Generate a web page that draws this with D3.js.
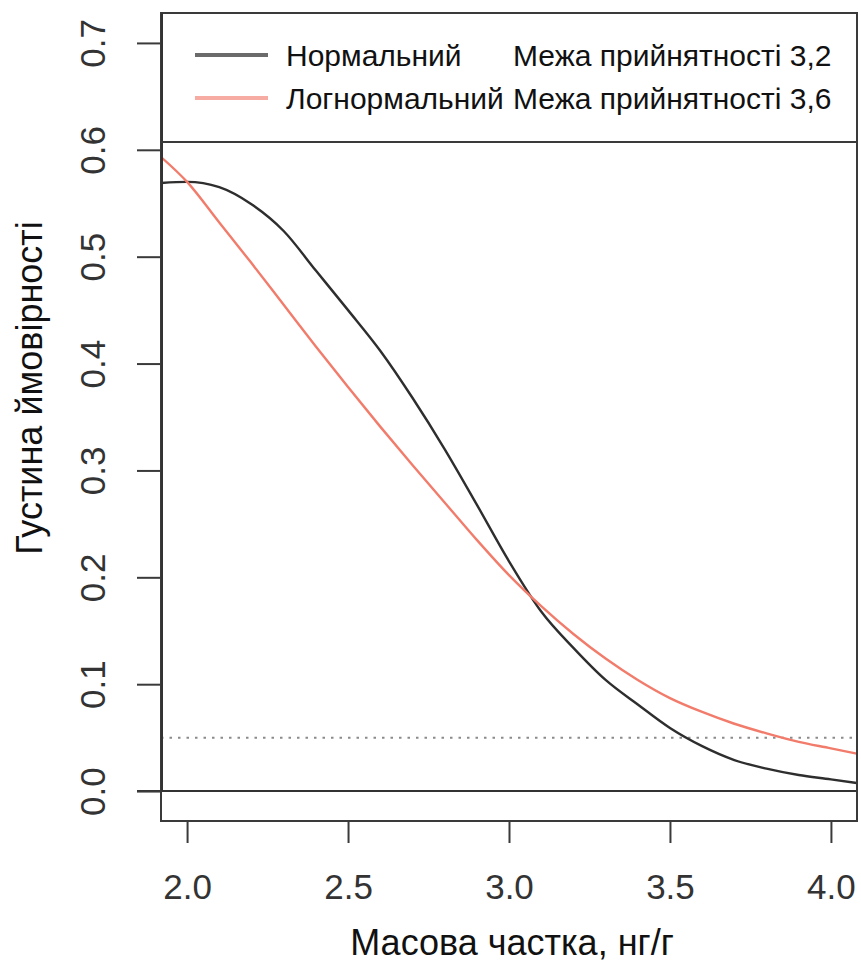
<!DOCTYPE html>
<html>
<head>
<meta charset="utf-8">
<script src="https://cdn.jsdelivr.net/npm/d3@7"></script>
<style>
  body { margin: 0; background: #fff; }
  svg text { font-family: "Liberation Sans", Arial, sans-serif; }
</style>
</head>
<body>
<svg id="chart"></svg>
<script>
// values
var xValues = [1.92, 2.0, 2.1, 2.2, 2.3, 2.4, 2.5, 2.6, 2.7, 2.8, 2.9, 3.0,
               3.1, 3.2, 3.3, 3.4, 3.5, 3.6, 3.7, 3.8, 3.9, 4.0, 4.08];
var normalDensity = [0.569, 0.570, 0.565, 0.549, 0.524, 0.487, 0.450, 0.412, 0.368, 0.320, 0.268, 0.215,
                     0.168, 0.134, 0.104, 0.081, 0.059, 0.042, 0.029, 0.021, 0.015, 0.011, 0.0075];
var lognormalDensity = [0.593, 0.570, 0.532, 0.494, 0.455, 0.416, 0.378, 0.341, 0.305, 0.270, 0.235, 0.202,
                        0.173, 0.147, 0.124, 0.104, 0.087, 0.074, 0.063, 0.054, 0.046, 0.040, 0.035];
var xTicks = [2.0, 2.5, 3.0, 3.5, 4.0];
var yTicks = [0.0, 0.1, 0.2, 0.3, 0.4, 0.5, 0.6, 0.7];
var threshold = 0.05;
var legendNames = ["Нормальний", "Логнормальний"];
var legendLimits = ["Межа прийнятності 3,2", "Межа прийнятності 3,6"];
var xTitle = "Масова частка, нг/г";
var yTitle = "Густина ймовірності";

(function () {
  var width = 861, height = 965;
  var plot = {left: 161, right: 857, top: 13, bottom: 821};
  var lineColor = "#2e2e2e", redColor = "#f27c6b";

  var svg = d3.select("#chart")
      .attr("width", width)
      .attr("height", height);

  var x = d3.scaleLinear().domain([1.919, 4.081]).range([plot.left, plot.right]),
      y = d3.scaleLinear().domain([-0.028, 0.728]).range([plot.bottom, plot.top]);

  svg.append("clipPath").attr("id", "clip")
    .append("rect")
      .attr("x", plot.left).attr("y", plot.top)
      .attr("width", plot.right - plot.left)
      .attr("height", plot.bottom - plot.top);

  // threshold and zero lines
  svg.append("line")
    .attr("x1", plot.left).attr("x2", plot.right)
    .attr("y1", y(threshold)).attr("y2", y(threshold))
    .style("stroke", "#8a8a8a")
    .style("stroke-width", 2)
    .style("stroke-dasharray", "2.5,6");

  svg.append("line")
    .attr("x1", plot.left - 24).attr("x2", plot.right)
    .attr("y1", y(0)).attr("y2", y(0))
    .style("stroke", "#333")
    .style("stroke-width", 2);

  var series = [
    {values: normalDensity, color: lineColor},
    {values: lognormalDensity, color: redColor}
  ];

  var line = d3.line()
      .curve(d3.curveMonotoneX)
      .x(function(d) { return x(d[0]); })
      .y(function(d) { return y(d[1]); });

  svg.append("g").attr("clip-path", "url(#clip)")
    .selectAll("path")
    .data(series)
    .enter().append("path")
      .attr("d", function(s) { return line(xValues.map(function(v, i) { return [v, s.values[i]]; })); })
      .style("fill", "none")
      .style("stroke", function(s) { return s.color; })
      .style("stroke-width", 2.4);

  // axes
  var yAxis = svg.append("g")
      .attr("transform", "translate(" + plot.left + ",0)")
      .call(d3.axisLeft(y).tickValues(yTicks).tickSize(24).tickSizeOuter(0).tickFormat(d3.format(".1f")));
  yAxis.select(".domain").remove();
  yAxis.selectAll(".tick line").style("stroke", "#3a3a3a").style("stroke-width", 2);
  yAxis.selectAll(".tick text")
    .attr("transform", "rotate(-90)")
    .attr("x", 0).attr("y", -56).attr("dy", 0)
    .style("text-anchor", "middle")
    .style("font-size", "35px")
    .style("fill", "#333");

  var xAxis = svg.append("g")
      .attr("transform", "translate(0," + plot.bottom + ")")
      .call(d3.axisBottom(x).tickValues(xTicks).tickSize(22).tickSizeOuter(0).tickFormat(d3.format(".1f")));
  xAxis.select(".domain").remove();
  xAxis.selectAll(".tick line").style("stroke", "#3a3a3a").style("stroke-width", 2);
  xAxis.selectAll(".tick text")
    .attr("y", 78).attr("dy", 0)
    .style("font-size", "35px")
    .style("fill", "#333");

  // plot box, legend box bottom
  svg.append("rect")
    .attr("x", plot.left).attr("y", plot.top)
    .attr("width", plot.right - plot.left)
    .attr("height", plot.bottom - plot.top)
    .style("fill", "none")
    .style("stroke", "#3a3a3a")
    .style("stroke-width", 2);
  svg.append("line")
    .attr("x1", plot.left + 1).attr("x2", plot.left + 1)
    .attr("y1", plot.top).attr("y2", y(0))
    .style("stroke", "#333").style("stroke-width", 2);
  svg.append("line")
    .attr("x1", plot.left).attr("x2", plot.right)
    .attr("y1", 142).attr("y2", 142)
    .style("stroke", "#3a3a3a")
    .style("stroke-width", 2);

  // legend
  var legendColors = ["#6b6b6b", "#f6aca3"];
  var rows = svg.append("g").selectAll("g")
      .data(legendNames)
      .enter().append("g")
      .attr("transform", function(d, i) { return "translate(0," + (55 + i * 43) + ")"; });
  rows.append("line")
    .attr("x1", 195).attr("x2", 268)
    .style("stroke", function(d, i) { return legendColors[i]; })
    .style("stroke-width", 4);
  rows.append("text")
    .attr("x", 286).attr("y", 10.5)
    .style("font-size", "30px")
    .style("fill", "#111")
    .text(function(d) { return d; });
  rows.append("text")
    .attr("x", 513).attr("y", 10.5)
    .style("font-size", "30px")
    .style("fill", "#111")
    .text(function(d, i) { return legendLimits[i]; });

  // titles
  svg.append("text")
    .attr("x", (plot.left + plot.right) / 2 + 3)
    .attr("y", 955)
    .style("text-anchor", "middle")
    .style("font-size", "36px")
    .style("fill", "#111")
    .text(xTitle);

  svg.append("text")
    .attr("transform", "translate(42,388) rotate(-90)")
    .style("text-anchor", "middle")
    .style("font-size", "36px")
    .style("fill", "#111")
    .text(yTitle);
})();
</script>
</body>
</html>
